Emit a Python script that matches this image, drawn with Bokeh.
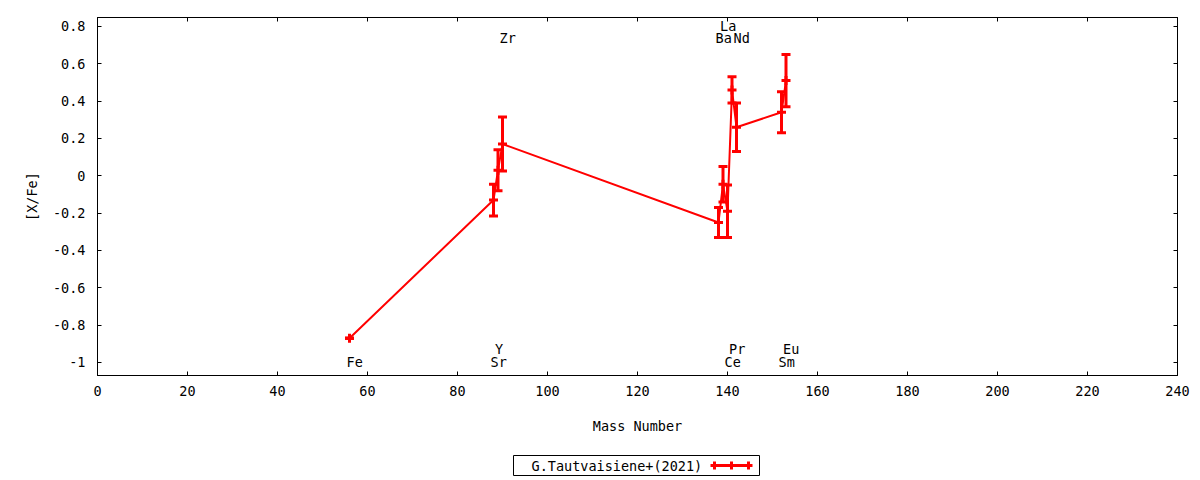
from bokeh.plotting import figure
from bokeh.layouts import column
from bokeh.models import (Range1d, LinearAxis, FixedTicker, Whisker, TeeHead,
                          ColumnDataSource, CustomJSTickFormatter)
from bokeh.core.properties import value
from bokeh.embed import file_html
from bokeh.resources import INLINE

# ---------------- data ----------------
elements = ["Fe", "Sr", "Y", "Zr", "Ba", "La", "Ce", "Pr", "Nd", "Sm", "Eu"]
mass_number = [56, 88, 89, 90, 138, 139, 140, 141, 142, 152, 153]
x_fe = [-0.87, -0.13, 0.03, 0.17, -0.25, -0.045, -0.19, 0.46, 0.26, 0.34, 0.51]
x_fe_err = [0.0, 0.085, 0.11, 0.145, 0.08, 0.095, 0.14, 0.07, 0.13, 0.11, 0.14]
label_y = [-1.0, -1.0, -0.93, 0.74, 0.74, 0.80, -1.0, -0.93, 0.74, -1.0, -0.93]
x_ticks = [0, 20, 40, 60, 80, 100, 120, 140, 160, 180, 200, 220, 240]
y_ticks = [-1.0, -0.8, -0.6, -0.4, -0.2, 0.0, 0.2, 0.4, 0.6, 0.8]
y_tick_labels = ["-1", "-0.8", "-0.6", "-0.4", "-0.2", "0", "0.2", "0.4", "0.6", "0.8"]
series_name = "G.Tautvaisiene+(2021)"
x_title = "Mass Number"
y_title = "[X/Fe]"

FONT = "DejaVu Sans Mono"
FS = "13.5px"
RED = "#ff0000"

p = figure(width=1200, height=450, x_range=Range1d(-0.3, 239.7), y_range=Range1d(-1.07, 0.848),
           output_backend="svg", toolbar_location=None,
           min_border_left=97, min_border_right=23, min_border_top=17, min_border_bottom=75)
p.x_range = Range1d(0, 240)
p.grid.grid_line_color = None
p.outline_line_color = "black"
p.outline_line_width = 1
p.outline_line_alpha = 1
p.background_fill_color = "white"
p.border_fill_color = "white"

ytick_fmt = CustomJSTickFormatter(args=dict(yt=y_ticks, yl=y_tick_labels), code="""
let best = 0;
for (let i = 0; i < yt.length; i++) {
  if (Math.abs(yt[i] - tick) < Math.abs(yt[best] - tick)) best = i;
}
return yl[best];
""")

def style_axis(ax):
    ax.axis_line_color = "black"
    ax.axis_line_width = 1
    ax.major_tick_line_color = "black"
    ax.major_tick_in = 4
    ax.major_tick_out = 0
    ax.minor_tick_line_color = None
    ax.major_label_text_font = FONT
    ax.major_label_text_font_size = FS
    ax.major_label_text_color = "black"
    ax.axis_label_text_font = FONT
    ax.axis_label_text_font_size = FS
    ax.axis_label_text_font_style = "normal"
    ax.axis_label_text_color = "black"

xa = p.xaxis[0]
xa.ticker = FixedTicker(ticks=x_ticks)
style_axis(xa)
xa.axis_label = x_title
xa.major_label_standoff = 10
xa.axis_label_standoff = 19

ya = p.yaxis[0]
ya.ticker = FixedTicker(ticks=y_ticks)
ya.formatter = ytick_fmt
style_axis(ya)
ya.axis_label = y_title
ya.major_label_standoff = 12
ya.axis_label_standoff = 10

blank_fmt = CustomJSTickFormatter(code="return ''")
top = LinearAxis(ticker=FixedTicker(ticks=x_ticks), formatter=blank_fmt)
style_axis(top)
top.major_label_text_font_size = "0px"
top.major_label_standoff = 0
p.add_layout(top, "above")
right = LinearAxis(ticker=FixedTicker(ticks=y_ticks), formatter=blank_fmt)
style_axis(right)
right.major_label_text_font_size = "0px"
right.major_label_standoff = 0
p.add_layout(right, "right")

# ---------------- data glyphs ----------------
src = ColumnDataSource(dict(
    x=mass_number, y=x_fe,
    upper=[v + e for v, e in zip(x_fe, x_fe_err)],
    lower=[v - e for v, e in zip(x_fe, x_fe_err)],
))
p.line("x", "y", source=src, line_color=RED, line_width=2)
p.add_layout(Whisker(base="x", upper="upper", lower="lower", source=src,
                     line_color=RED, line_width=3,
                     upper_head=TeeHead(size=9, line_color=RED, line_width=3),
                     lower_head=TeeHead(size=9, line_color=RED, line_width=3)))
p.scatter("x", "y", source=src, marker="cross", size=9, line_width=3, color=RED)

lab_src = ColumnDataSource(dict(x=mass_number, y=label_y, t=elements))
p.text("x", "y", text="t", source=lab_src, text_align="left", text_baseline="middle",
       x_offset=-3, text_font=value(FONT), text_font_size=FS, text_color="black")

# ---------------- legend strip (page-pixel coordinates; frame is aligned with the chart) ----------------
leg = figure(width=1200, height=30, x_range=Range1d(97, 1177), y_range=Range1d(0, 30),
             output_backend="svg", toolbar_location=None,
             x_axis_location=None, y_axis_location=None, min_border=0)
leg.grid.grid_line_color = None
leg.outline_line_color = None
leg.background_fill_color = "white"
leg.border_fill_color = "white"
leg.quad(left=[513], right=[759], bottom=[5], top=[25],
         fill_color="white", line_color="black", line_width=1)
leg.text(x=[531], y=[15], text=[series_name], text_align="left", text_baseline="middle",
         text_font=value(FONT), text_font_size=FS, text_color="black")
leg.segment(x0=[710], y0=[15], x1=[752], y1=[15], line_color=RED, line_width=3)
leg.segment(x0=[714, 731, 748], y0=[11, 11, 11], x1=[714, 731, 748], y1=[19, 19, 19],
            line_color=RED, line_width=3)

layout = column(p, leg, spacing=0)
open("out.html", "w").write(file_html(layout, INLINE))
